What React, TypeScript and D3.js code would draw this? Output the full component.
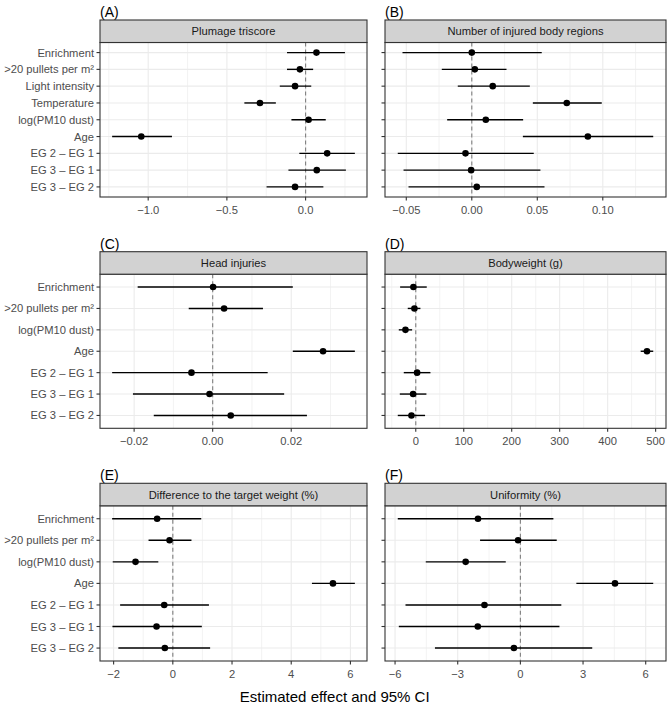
import React from "react";
import * as d3 from "d3";

// terms shown on the y axis
const termsAB = ["Enrichment", ">20 pullets per m²", "Light intensity", "Temperature", "log(PM10 dust)", "Age", "EG 2 – EG 1", "EG 3 – EG 1", "EG 3 – EG 2"];
const termsCF = ["Enrichment", ">20 pullets per m²", "log(PM10 dust)", "Age", "EG 2 – EG 1", "EG 3 – EG 1", "EG 3 – EG 2"];

// (A) plumage triscore
const plumageEst = [0.069, -0.036, -0.067, -0.29, 0.019, -1.044, 0.137, 0.071, -0.067];
const plumageLo = [-0.118, -0.118, -0.164, -0.389, -0.09, -1.229, -0.04, -0.109, -0.248];
const plumageHi = [0.25, 0.048, 0.036, -0.189, 0.128, -0.849, 0.313, 0.256, 0.113];

// (B) number of injured body regions
const injuredEst = [0.0, 0.0023, 0.016, 0.0725, 0.0107, 0.0886, -0.0048, -0.0005, 0.0038];
const injuredLo = [-0.0529, -0.0229, -0.0107, 0.0466, -0.0188, 0.039, -0.0565, -0.0521, -0.0483];
const injuredHi = [0.0534, 0.0265, 0.0443, 0.0992, 0.0392, 0.1385, 0.0473, 0.0524, 0.0555];

// (C) head injuries (no estimate for dust)
const headEst = [0.0001, 0.0029, null, 0.0281, -0.0054, -0.0008, 0.0046];
const headLo = [-0.0191, -0.0061, null, 0.0204, -0.0256, -0.0203, -0.015];
const headHi = [0.0204, 0.0128, null, 0.0362, 0.014, 0.0182, 0.024];

// (D) bodyweight
const bwEst = [-4.9, -2.8, -21.5, 482, 2.8, -5.5, -9];
const bwLo = [-32.6, -16.7, -35.4, 468.8, -25, -33.3, -37.5];
const bwHi = [22.9, 9.7, -7.6, 495, 30.6, 22.2, 19.4];

// (E) difference to target weight
const targetEst = [-0.53, -0.11, -1.26, 5.41, -0.29, -0.55, -0.27];
const targetLo = [-2.05, -0.82, -2.03, 4.7, -1.78, -2.04, -1.84];
const targetHi = [0.96, 0.63, -0.49, 6.15, 1.22, 0.98, 1.26];

// (F) uniformity
const unifEst = [-2.03, -0.11, -2.62, 4.53, -1.72, -2.04, -0.31];
const unifLo = [-5.87, -1.93, -4.53, 2.68, -5.5, -5.82, -4.09];
const unifHi = [1.58, 1.74, -0.7, 6.36, 1.96, 1.87, 3.44];

// tick values per panel
const ticksA = [-1.0, -0.5, 0.0];
const ticksB = [-0.05, 0.0, 0.05, 0.1];
const ticksC = [-0.02, 0.0, 0.02];
const ticksD = [0, 100, 200, 300, 400, 500];
const ticksE = [-2, 0, 2, 4, 6];
const ticksF = [-6, -3, 0, 3, 6];

const FONT = "'Liberation Sans', Arial, Helvetica, sans-serif";
const minus = (s: string) => s.replace("-", "−");

type PanelProps = {
  tag: string;
  title: string;
  terms: string[];
  est: (number | null)[];
  lo: (number | null)[];
  hi: (number | null)[];
  ticks: number[];
  fmt: (v: number) => string;
  left: number;
  right: number;
  top: number;
  bottom: number;
  showY: boolean;
};

const Panel = ({ tag, title, terms, est, lo, hi, ticks, fmt, left, right, top, bottom, showY }: PanelProps) => {
  const stripH = 22.5;
  const plotTop = top + stripH;

  // ggplot-like 5% expansion
  const vals = [...(lo as number[]), ...(hi as number[]), 0].filter((v) => v != null) as number[];
  const [mn, mx] = d3.extent(vals) as [number, number];
  const pad = (mx - mn) * 0.05;
  const x = d3.scaleLinear().domain([mn - pad, mx + pad]).range([left, right]);
  const y = d3.scalePoint<string>().domain(terms).range([plotTop, bottom]).padding(0.6);

  const step = ticks[1] - ticks[0];
  const minor = d3
    .range(-1, ticks.length)
    .map((i) => ticks[0] + step * i + step / 2)
    .filter((v) => v > x.domain()[0] && v < x.domain()[1]);

  return (
    <g>
      <text x={left} y={top - 3} fontSize={14} fill="#000" fontFamily={FONT}>
        {tag}
      </text>
      <rect x={left} y={plotTop} width={right - left} height={bottom - plotTop} fill="#fff" />
      {minor.map((v) => (
        <line key={"m" + v} x1={x(v)} x2={x(v)} y1={plotTop} y2={bottom} stroke="#ebebeb" strokeWidth={0.6} />
      ))}
      {ticks.map((v) => (
        <line key={"g" + v} x1={x(v)} x2={x(v)} y1={plotTop} y2={bottom} stroke="#ebebeb" strokeWidth={1.1} />
      ))}
      {terms.map((t) => (
        <line key={"h" + t} x1={left} x2={right} y1={y(t)} y2={y(t)} stroke="#ebebeb" strokeWidth={1.1} />
      ))}
      <line x1={x(0)} x2={x(0)} y1={plotTop} y2={bottom} stroke="#7f7f7f" strokeWidth={1.1} strokeDasharray="4,3" />
      {terms.map((t, i) =>
        est[i] == null ? null : (
          <g key={"d" + t}>
            <line x1={x(lo[i] as number)} x2={x(hi[i] as number)} y1={y(t)} y2={y(t)} stroke="#000" strokeWidth={1.4} />
            <circle cx={x(est[i] as number)} cy={y(t)} r={3.3} fill="#000" />
          </g>
        )
      )}
      <rect x={left} y={plotTop} width={right - left} height={bottom - plotTop} fill="none" stroke="#333" strokeWidth={1.1} />
      <rect x={left} y={top} width={right - left} height={stripH} fill="#d2d2d2" stroke="#333" strokeWidth={1.1} />
      <text x={(left + right) / 2} y={top + stripH / 2 + 4} fontSize={11.2} textAnchor="middle" fill="#1a1a1a" fontFamily={FONT}>
        {title}
      </text>
      {ticks.map((v) => (
        <g key={"t" + v}>
          <line x1={x(v)} x2={x(v)} y1={bottom} y2={bottom + 3.5} stroke="#333" strokeWidth={1.1} />
          <text x={x(v)} y={bottom + 16.5} fontSize={11.2} textAnchor="middle" fill="#4d4d4d" fontFamily={FONT}>
            {fmt(v)}
          </text>
        </g>
      ))}
      {terms.map((t) => (
        <g key={"y" + t}>
          <line x1={left - 3.5} x2={left} y1={y(t)} y2={y(t)} stroke="#333" strokeWidth={1.1} />
          {showY && (
            <text x={left - 6} y={(y(t) as number) + 4} fontSize={11.2} textAnchor="end" fill="#4d4d4d" fontFamily={FONT}>
              {t}
            </text>
          )}
        </g>
      ))}
    </g>
  );
};

export default function App() {
  const colA = [100, 367];
  const colB = [385, 666];
  const rows = [
    [20, 197],
    [251.7, 428.3],
    [483.3, 661],
  ];
  const f1 = (v: number) => minus(v.toFixed(1));
  const f2 = (v: number) => minus(v.toFixed(2));
  const f0 = (v: number) => minus(d3.format("d")(v));

  return (
    <svg width={669} height={704} style={{ position: "absolute", left: 0, top: 0, background: "#fff" }}>
      <rect width={669} height={704} fill="#fff" />
      <Panel tag="(A)" title="Plumage triscore" terms={termsAB} est={plumageEst} lo={plumageLo} hi={plumageHi} ticks={ticksA} fmt={f1}
        left={colA[0]} right={colA[1]} top={rows[0][0]} bottom={rows[0][1]} showY />
      <Panel tag="(B)" title="Number of injured body regions" terms={termsAB} est={injuredEst} lo={injuredLo} hi={injuredHi} ticks={ticksB} fmt={f2}
        left={colB[0]} right={colB[1]} top={rows[0][0]} bottom={rows[0][1]} showY={false} />
      <Panel tag="(C)" title="Head injuries" terms={termsCF} est={headEst} lo={headLo} hi={headHi} ticks={ticksC} fmt={f2}
        left={colA[0]} right={colA[1]} top={rows[1][0]} bottom={rows[1][1]} showY />
      <Panel tag="(D)" title="Bodyweight (g)" terms={termsCF} est={bwEst} lo={bwLo} hi={bwHi} ticks={ticksD} fmt={f0}
        left={colB[0]} right={colB[1]} top={rows[1][0]} bottom={rows[1][1]} showY={false} />
      <Panel tag="(E)" title="Difference to the target weight (%)" terms={termsCF} est={targetEst} lo={targetLo} hi={targetHi} ticks={ticksE} fmt={f0}
        left={colA[0]} right={colA[1]} top={rows[2][0]} bottom={rows[2][1]} showY />
      <Panel tag="(F)" title="Uniformity (%)" terms={termsCF} est={unifEst} lo={unifLo} hi={unifHi} ticks={ticksF} fmt={f0}
        left={colB[0]} right={colB[1]} top={rows[2][0]} bottom={rows[2][1]} showY={false} />
      <text x={334.7} y={702} fontSize={15} textAnchor="middle" fill="#000" fontFamily={FONT}>
        Estimated effect and 95% CI
      </text>
    </svg>
  );
}
